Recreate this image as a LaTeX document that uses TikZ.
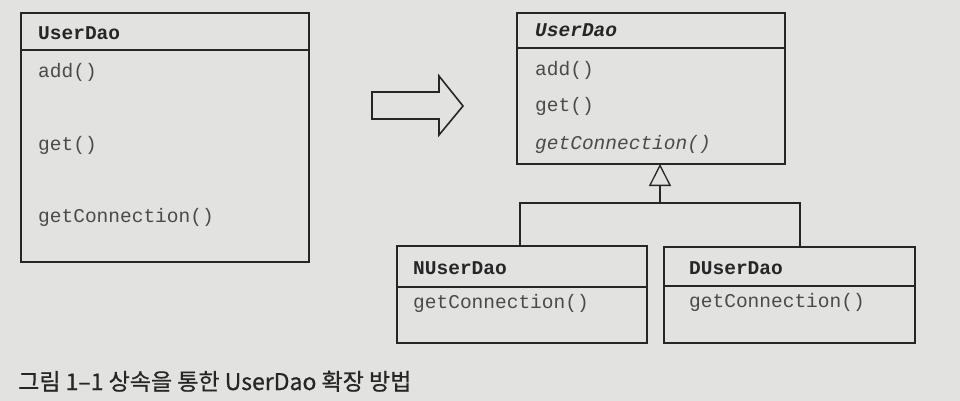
\documentclass[tikz,border=0pt]{standalone}
\usepackage{fontspec}
\setmonofont{Liberation Mono}
\newfontfamily\krfont[FakeBold=0.6]{Noto Sans CJK KR}
\usetikzlibrary{arrows.meta}
\definecolor{paper}{HTML}{E2E2E0}
\definecolor{ink}{HTML}{262626}
\definecolor{codeink}{HTML}{4A4A4A}
\tikzset{
  classbox/.style={draw=ink, line width=1.6pt, rectangle, inner sep=0pt, anchor=north west},
  sepline/.style={draw=ink, line width=1.3pt},
  classname/.style={anchor=base west, inner sep=0pt, text=ink, font=\ttfamily\bfseries\fontsize{19.5}{22}\selectfont},
  member/.style={anchor=base west, inner sep=0pt, text=codeink, font=\ttfamily\fontsize{19.5}{22}\selectfont},
  gen/.style={draw=ink, line width=1.3pt},
  blockarrow/.style={draw=ink, line width=1.6pt, fill=paper, line join=miter},
  caption/.style={anchor=base west, inner sep=0pt, text=ink, font=\krfont\fontsize{23}{26}\selectfont}
}
\begin{document}
\begin{tikzpicture}[x=1pt, y=-1pt]
  \fill[paper] (0,0) rectangle (960,401);
  \useasboundingbox (0,0) rectangle (960,401);

  % single class before refactoring
  \node[classbox, minimum width=288pt, minimum height=249pt] (old) at (20,12) {};
  \draw[sepline] (20,50) -- (308,50);
  \node[classname] (oldname) at (38,40) {UserDao};
  \node[member] (oldadd) at (38,78) {add()};
  \node[member] (oldget) at (38,150) {get()};
  \node[member] (oldconn) at (38,222) {getConnection()};

  % transformation arrow
  \draw[blockarrow] (372,92) -- (439,92) -- (439,76) -- (463,106) -- (439,135) -- (439,119) -- (372,119) -- cycle;

  % abstract base class
  \node[classbox, minimum width=268pt, minimum height=151pt] (base) at (516,12) {};
  \draw[sepline] (516,48) -- (784,48);
  \node[classname, font=\ttfamily\bfseries\itshape\fontsize{19.5}{22}\selectfont] (basename) at (535,37) {UserDao};
  \node[member] (baseadd) at (535,76) {add()};
  \node[member] (baseget) at (535,112) {get()};
  \node[member, font=\ttfamily\itshape\fontsize{19.5}{22}\selectfont] (baseconn) at (535,149) {getConnection()};

  % subclasses
  \node[classbox, minimum width=250pt, minimum height=97pt] (nsub) at (396,245) {};
  \draw[sepline] (396,287) -- (646,287);
  \node[classname] (nname) at (413,274) {NUserDao};
  \node[member] (nconn) at (413,308) {getConnection()};

  \node[classbox, minimum width=251pt, minimum height=96pt] (dsub) at (663,246) {};
  \draw[sepline] (663,286) -- (914,286);
  \node[classname] (dname) at (689,274) {DUserDao};
  \node[member] (dconn) at (689,307) {getConnection()};

  % generalization
  \coordinate (join) at (660,203);
  \draw[gen] (520,245) |- (join) -| (800,246);
  \draw[gen, -{Triangle[open, length=22pt, width=22pt, line width=1.3pt]}] (join) -- (660,164);

  \node[caption] (cap) at (18,390) {그림 1–1 상속을 통한 UserDao 확장 방법};
\end{tikzpicture}
\end{document}
